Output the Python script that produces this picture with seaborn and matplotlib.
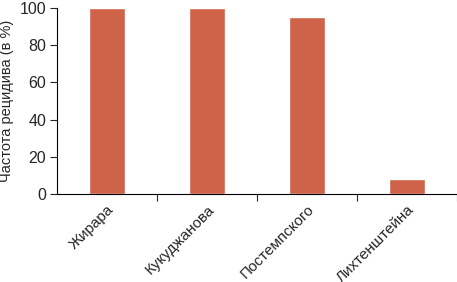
import matplotlib
matplotlib.use("Agg")
import matplotlib.pyplot as plt
import seaborn as sns
import pandas as pd
from matplotlib.ticker import FixedLocator

names = ["Жирара", "Кукуджанова", "Постемпского", "Лихтенштейна"]
relapse = [100, 100, 95, 8]
yticks = [0, 20, 40, 60, 80, 100]

sns.set_style("white")
plt.rcParams["font.family"] = ["Liberation Sans Narrow", "Liberation Sans", "DejaVu Sans"]

df = pd.DataFrame({"method": names, "rate": relapse})

fig = plt.figure(figsize=(4.57, 2.82), dpi=100)
ax = fig.add_axes([0.125, 0.312, 0.875, 0.66])
sns.barplot(data=df, x="method", y="rate", color="#CF634A", width=0.36,
            saturation=1, ax=ax)

ax.set_xlim(-0.5, 3.5)
ax.set_ylim(0, 100)
ax.set_yticks(yticks)
ax.tick_params(axis="y", labelsize=11.5, length=5, width=0.8, direction="out", pad=3, left=True)
ax.tick_params(axis="x", which="major", length=0, labelsize=11, pad=6)
ax.xaxis.set_minor_locator(FixedLocator([0.5, 1.5, 2.5, 3.5]))
ax.tick_params(axis="x", which="minor", length=5, width=0.8, direction="out", bottom=True)
for lbl in ax.get_xticklabels():
    lbl.set_rotation(45)
    lbl.set_ha("right")
    lbl.set_rotation_mode("anchor")

ax.set_xlabel("")
ax.set_ylabel("Частота рецидива (в %)", fontsize=10.5, labelpad=4)
for s in ["top", "right"]:
    ax.spines[s].set_visible(False)
for s in ["left", "bottom"]:
    ax.spines[s].set_color("black")
    ax.spines[s].set_linewidth(0.8)

fig.savefig("out.png", dpi=100)
